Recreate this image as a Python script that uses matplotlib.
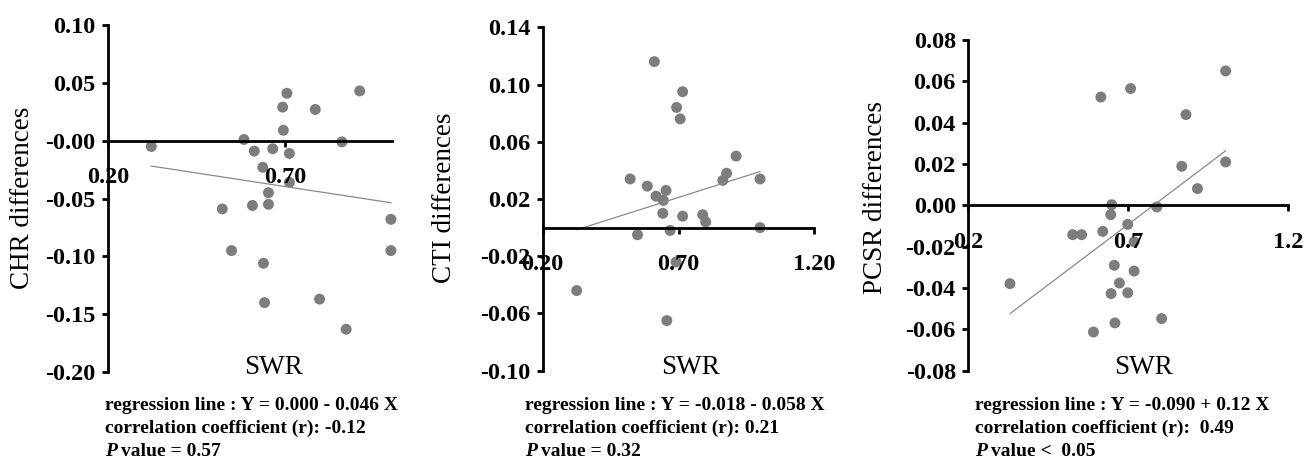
import numpy as np
import matplotlib
matplotlib.use('Agg')
import matplotlib.pyplot as plt

#Fonts
plt.rcParams['font.family'] = ['Liberation Serif', 'DejaVu Serif']
tick_fnt = 17.5
lab_fnt = 19.5
txt_fnt = 14

#Data (SWR vs differences)
chr_x = [0.322, 0.583, 0.612, 0.664, 0.711, 0.694, 0.692, 0.704, 0.784, 0.909, 0.859, 0.636,
         0.711, 0.652, 0.652, 0.607, 0.522, 0.548, 0.638, 0.641, 0.796, 0.871, 0.997, 0.997]
chr_y = [-0.005, 0.001, -0.009, -0.007, -0.011, 0.009, 0.029, 0.041, 0.027, 0.043, -0.001, -0.023,
         -0.036, -0.045, -0.055, -0.056, -0.059, -0.095, -0.106, -0.140, -0.137, -0.163, -0.068, -0.095]

cti_x = [0.611, 0.715, 0.693, 0.706, 0.912, 0.877, 0.863, 1.000, 0.522, 0.585, 0.654, 0.617,
         0.644, 0.642, 0.715, 0.789, 0.800, 1.000, 0.549, 0.669, 0.691, 0.325, 0.657]
cti_y = [0.116, 0.095, 0.084, 0.076, 0.050, 0.038, 0.033, 0.034, 0.034, 0.029, 0.026, 0.022,
         0.019, 0.010, 0.008, 0.009, 0.004, 0.000, -0.005, -0.002, -0.024, -0.044, -0.065]

pcsr_x = [1.004, 0.707, 0.614, 0.880, 1.004, 0.867, 0.916, 0.648, 0.789, 0.645, 0.698, 0.620,
          0.526, 0.554, 0.718, 0.656, 0.718, 0.672, 0.646, 0.698, 0.330, 0.658, 0.804, 0.591]
pcsr_y = [0.065, 0.0565, 0.0524, 0.0439, 0.021, 0.0189, 0.0081, 0.0003, -0.0008, -0.0045, -0.0092, -0.0126,
          -0.0142, -0.0142, -0.0177, -0.029, -0.0318, -0.0376, -0.0427, -0.0423, -0.0379, -0.0569, -0.0548, -0.0613]

#Regression lines as drawn (intercept, slope)
chr_fit = [-0.0068, -0.047]
cti_fit = [-0.0211, 0.0603]
pcsr_fit = [-0.0910, 0.1169]

ylabels = ['CHR differences', 'CTI differences', 'PCSR differences']
xticks = [[0.2, 0.7], [0.2, 0.7, 1.2], [0.2, 0.7, 1.2]]
xticklabels = [['0.20', '0.70'], ['0.20', '0.70', '1.20'], ['0.2', '0.7', '1.2']]
xlims = [(0.2, 1.0), (0.2, 1.2), (0.2, 1.2)]
yticks = [np.arange(-0.20, 0.101, 0.05), np.arange(-0.10, 0.141, 0.04), np.arange(-0.08, 0.081, 0.02)]
ylims = [(-0.20, 0.10), (-0.10, 0.14), (-0.08, 0.08)]

notes = [['regression line : Y = 0.000 - 0.046 X', 'correlation coefficient (r): -0.12', 'value = 0.57'],
         ['regression line : Y = -0.018 - 0.058 X', 'correlation coefficient (r): 0.21', 'value = 0.32'],
         ['regression line : Y = -0.090 + 0.12 X', 'correlation coefficient (r):  0.49', 'value <  0.05']]

xs = [chr_x, cti_x, pcsr_x]
ys = [chr_y, cti_y, pcsr_y]
fits = [chr_fit, cti_fit, pcsr_fit]

#Axes boxes in figure fraction [left, bottom, width, height]
boxes = [[0.0828, 0.1895, 0.2178, 0.756],
         [0.4162, 0.1924, 0.2083, 0.7481],
         [0.7426, 0.1924, 0.2454, 0.7205]]
ylab_x = [23, 445, 875]
swr_x = [273, 690, 1143]
note_x = [105, 525, 975]

W, H = 1304, 459
fig = plt.figure(figsize=(W / 100, H / 100), dpi=100)

for i in range(3):
    ax = fig.add_axes(boxes[i])
    x = np.array(xs[i])
    y = np.array(ys[i])
    ax.scatter(x, y, s=62, color='#7d7d7d', edgecolors='none', zorder=1, clip_on=False)
    lx = np.array([x.min(), x.max()])
    ax.plot(lx, fits[i][0] + fits[i][1] * lx, color='#8a8a8a', linewidth=0.9, zorder=1)

    ax.set_xlim(xlims[i])
    ax.set_ylim(ylims[i])
    ax.set_xticks(xticks[i])
    ax.set_xticklabels(xticklabels[i])
    ax.set_yticks(yticks[i])
    ax.set_yticklabels(['%.2f' % v for v in yticks[i]])

    #Excel style axes: y axis at left, x axis through zero
    ax.spines['top'].set_visible(False)
    ax.spines['right'].set_visible(False)
    ax.spines['bottom'].set_position(('data', 0))
    ax.spines['left'].set_linewidth(2)
    ax.spines['bottom'].set_linewidth(2)
    ax.tick_params(axis='both', direction='out', length=4, width=2, labelsize=tick_fnt)
    ax.tick_params(axis='x', pad=15)
    ax.tick_params(axis='y', pad=5)
    for lab in ax.get_xticklabels() + ax.get_yticklabels():
        lab.set_fontweight('bold')
    ax.patch.set_alpha(0)

    fig.text(ylab_x[i] / W, 1 - 198 / H, ylabels[i], rotation=90, ha='center', va='center', fontsize=lab_fnt)
    fig.text(swr_x[i] / W, 1 - 367 / H, 'SWR', ha='center', va='center', fontsize=lab_fnt)

    #Notes under each panel
    fig.text(note_x[i] / W, 1 - 405 / H, notes[i][0], ha='left', va='center', fontsize=txt_fnt, fontweight='bold')
    fig.text(note_x[i] / W, 1 - 428 / H, notes[i][1], ha='left', va='center', fontsize=txt_fnt, fontweight='bold')
    fig.text(note_x[i] / W, 1 - 451 / H, 'P', ha='left', va='center',
             fontsize=txt_fnt, fontweight='bold', fontstyle='italic')
    fig.text((note_x[i] + 16) / W, 1 - 451 / H, notes[i][2], ha='left', va='center',
             fontsize=txt_fnt, fontweight='bold')

plt.savefig('out.png', dpi=100)
